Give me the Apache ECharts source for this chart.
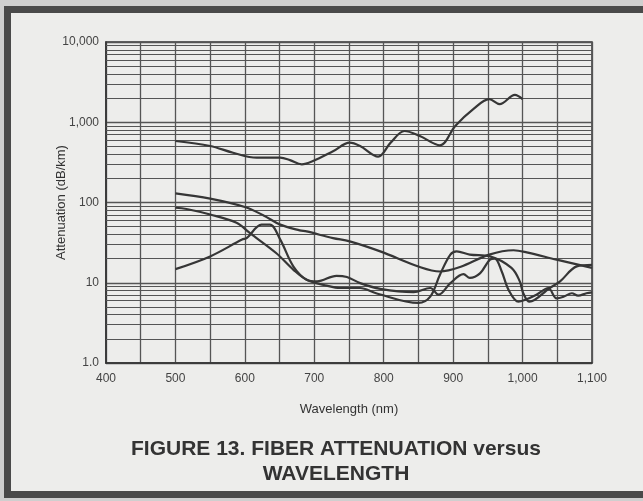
<!DOCTYPE html>
<html>
<head>
<meta charset="utf-8">
<script src="https://cdn.jsdelivr.net/npm/echarts@6/dist/echarts.min.js"></script>
<style>
  html, body { margin: 0; padding: 0; background: #cfcfcf; }
  #frame { position: absolute; left: 4px; top: 6px; width: 700px; height: 478px;
           border: 7px solid #4a4a4a; background: #ededeb; }
  #chart { position: absolute; left: 0; top: 0; width: 643px; height: 501px; }
</style>
</head>
<body>
<div id="frame"></div>
<div id="chart"></div>
<script>
// wavelength ticks (nm) and attenuation ticks (dB/km)
var xTicks = [400, 500, 600, 700, 800, 900, 1000, 1100];
var xTickLabels = ['400', '500', '600', '700', '800', '900', '1,000', '1,100'];
var yTicks = [1, 10, 100, 1000, 10000];
var yTickLabels = ['1.0', '10', '100', '1,000', '10,000'];

// curve A - top curve
var curveA_nm = [500, 550, 583, 617, 651, 665, 682, 698, 727, 751, 766, 792, 810, 830, 852, 881, 903, 929, 952, 967, 989, 1000];
var curveA_db = [584, 506, 417, 362, 362, 337, 299, 328, 435, 557, 505, 373, 557, 778, 674, 516, 899, 1454, 1939, 1679, 2190, 1939];

// curve B - smooth one falling from ~130
var curveB_nm = [500, 550, 600, 627, 651, 679, 689, 727, 751, 795, 852, 881, 910, 952, 987, 1006, 1049, 1100];
var curveB_db = [130, 112, 88, 69, 53, 45, 43.6, 36, 32.8, 24.6, 15.7, 13.8, 15.7, 22.4, 25.4, 23.9, 19.4, 15.3];

// curve C - starts low, peak near 630, wiggly end
var curveC_nm = [500, 550, 596, 603, 624, 636, 651, 670, 689, 704, 732, 747, 766, 795, 843, 867, 879, 896, 915, 924, 939, 953, 960, 970, 980, 994, 1003, 1020, 1037, 1049, 1059, 1071, 1080, 1092, 1100];
var curveC_db = [14.8, 21.3, 34.5, 36.2, 53, 53, 34.5, 15.9, 10.9, 10.4, 12.2, 11.8, 9.9, 8.4, 7.65, 8.6, 7.1, 9.9, 12.8, 11.5, 13.2, 19.4, 20, 13.8, 8.1, 5.8, 6.1, 7.1, 8.6, 6.4, 6.7, 7.4, 6.9, 7.4, 7.6];

// curve D - starts ~86, dips to 5.6 at 850
var curveD_nm = [500, 516, 550, 588, 607, 645, 670, 689, 718, 737, 766, 789, 850, 867, 881, 896, 905, 924, 953, 984, 996, 1001, 1010, 1039, 1054, 1078, 1100];
var curveD_db = [86, 83, 70.8, 55.8, 41.7, 23.5, 14.5, 10.9, 9.2, 8.6, 8.6, 7.4, 5.6, 6.7, 12.6, 22.4, 24.6, 22.4, 21.3, 15.3, 10.4, 7.4, 5.8, 8.6, 10.4, 16, 16.7];

// minor log grid values
var minorGrid = [];
[1, 10, 100, 1000].forEach(function (d) {
    for (var k = 2; k <= 9; k++) minorGrid.push(d * k);
});

function pairs(xs, ys) {
    return xs.map(function (x, i) { return [x, ys[i]]; });
}

var FONT = '"Liberation Sans", Arial, sans-serif';
var lineCol = '#363636';
var gridCol = '#555';

function curve(name, xs, ys) {
    return {
        name: name,
        type: 'line',
        data: pairs(xs, ys),
        smooth: 0.35,
        showSymbol: false,
        lineStyle: { color: lineCol, width: 2.2 },
        z: 5
    };
}

var myChart = echarts.init(document.getElementById('chart'), null, { renderer: 'canvas' });
var option = {
    backgroundColor: 'transparent',
    animation: false,
    title: {
        text: 'FIGURE 13. FIBER ATTENUATION versus\nWAVELENGTH',
        left: 331,
        top: 432,
        textAlign: 'center',
        textStyle: {
            fontFamily: FONT,
            fontSize: 21,
            fontWeight: 'bold',
            color: '#333',
            lineHeight: 25
        }
    },
    grid: {
        left: 106, right: 51, top: 42, bottom: 138,
        show: true, borderColor: '#333', borderWidth: 1.5, backgroundColor: 'transparent'
    },
    xAxis: {
        type: 'value',
        min: 400, max: 1100, interval: 50,
        name: 'Wavelength (nm)',
        nameLocation: 'middle',
        nameGap: 40,
        nameTextStyle: { fontFamily: FONT, fontSize: 13, color: '#333' },
        axisLine: { show: true, lineStyle: { color: '#333', width: 1.5 } },
        axisTick: { show: false },
        axisLabel: {
            margin: 10,
            fontFamily: FONT, fontSize: 12, color: '#444',
            formatter: function (v) {
                var i = xTicks.indexOf(v);
                return i >= 0 ? xTickLabels[i] : '';
            }
        },
        splitLine: { show: true, lineStyle: { color: gridCol, width: 1.3 } }
    },
    yAxis: {
        type: 'log',
        logBase: 10,
        min: 1, max: 10000,
        name: 'Attenuation (dB/km)',
        nameLocation: 'middle',
        nameGap: 38,
        nameMoveOverlap: false,
        nameTextStyle: { fontFamily: FONT, fontSize: 13, color: '#333' },
        axisLine: { show: true, lineStyle: { color: '#333', width: 1.5 } },
        axisTick: { show: false },
        axisLabel: {
            margin: 7,
            fontFamily: FONT, fontSize: 12, color: '#444',
            formatter: function (v) {
                var i = yTicks.indexOf(Math.round(v));
                return i >= 0 ? yTickLabels[i] : '';
            }
        },
        splitLine: { show: true, lineStyle: { color: gridCol, width: 1.3 } }
    },
    series: [
        {
            name: 'grid',
            type: 'line',
            data: [],
            silent: true,
            markLine: {
                silent: true,
                symbol: 'none',
                label: { show: false },
                lineStyle: { color: gridCol, width: 1, type: 'solid' },
                data: minorGrid.map(function (v) { return { yAxis: v }; })
            },
            z: 1
        },
        curve('A', curveA_nm, curveA_db),
        curve('B', curveB_nm, curveB_db),
        curve('C', curveC_nm, curveC_db),
        curve('D', curveD_nm, curveD_db)
    ]
};
myChart.setOption(option);
</script>
</body>
</html>
